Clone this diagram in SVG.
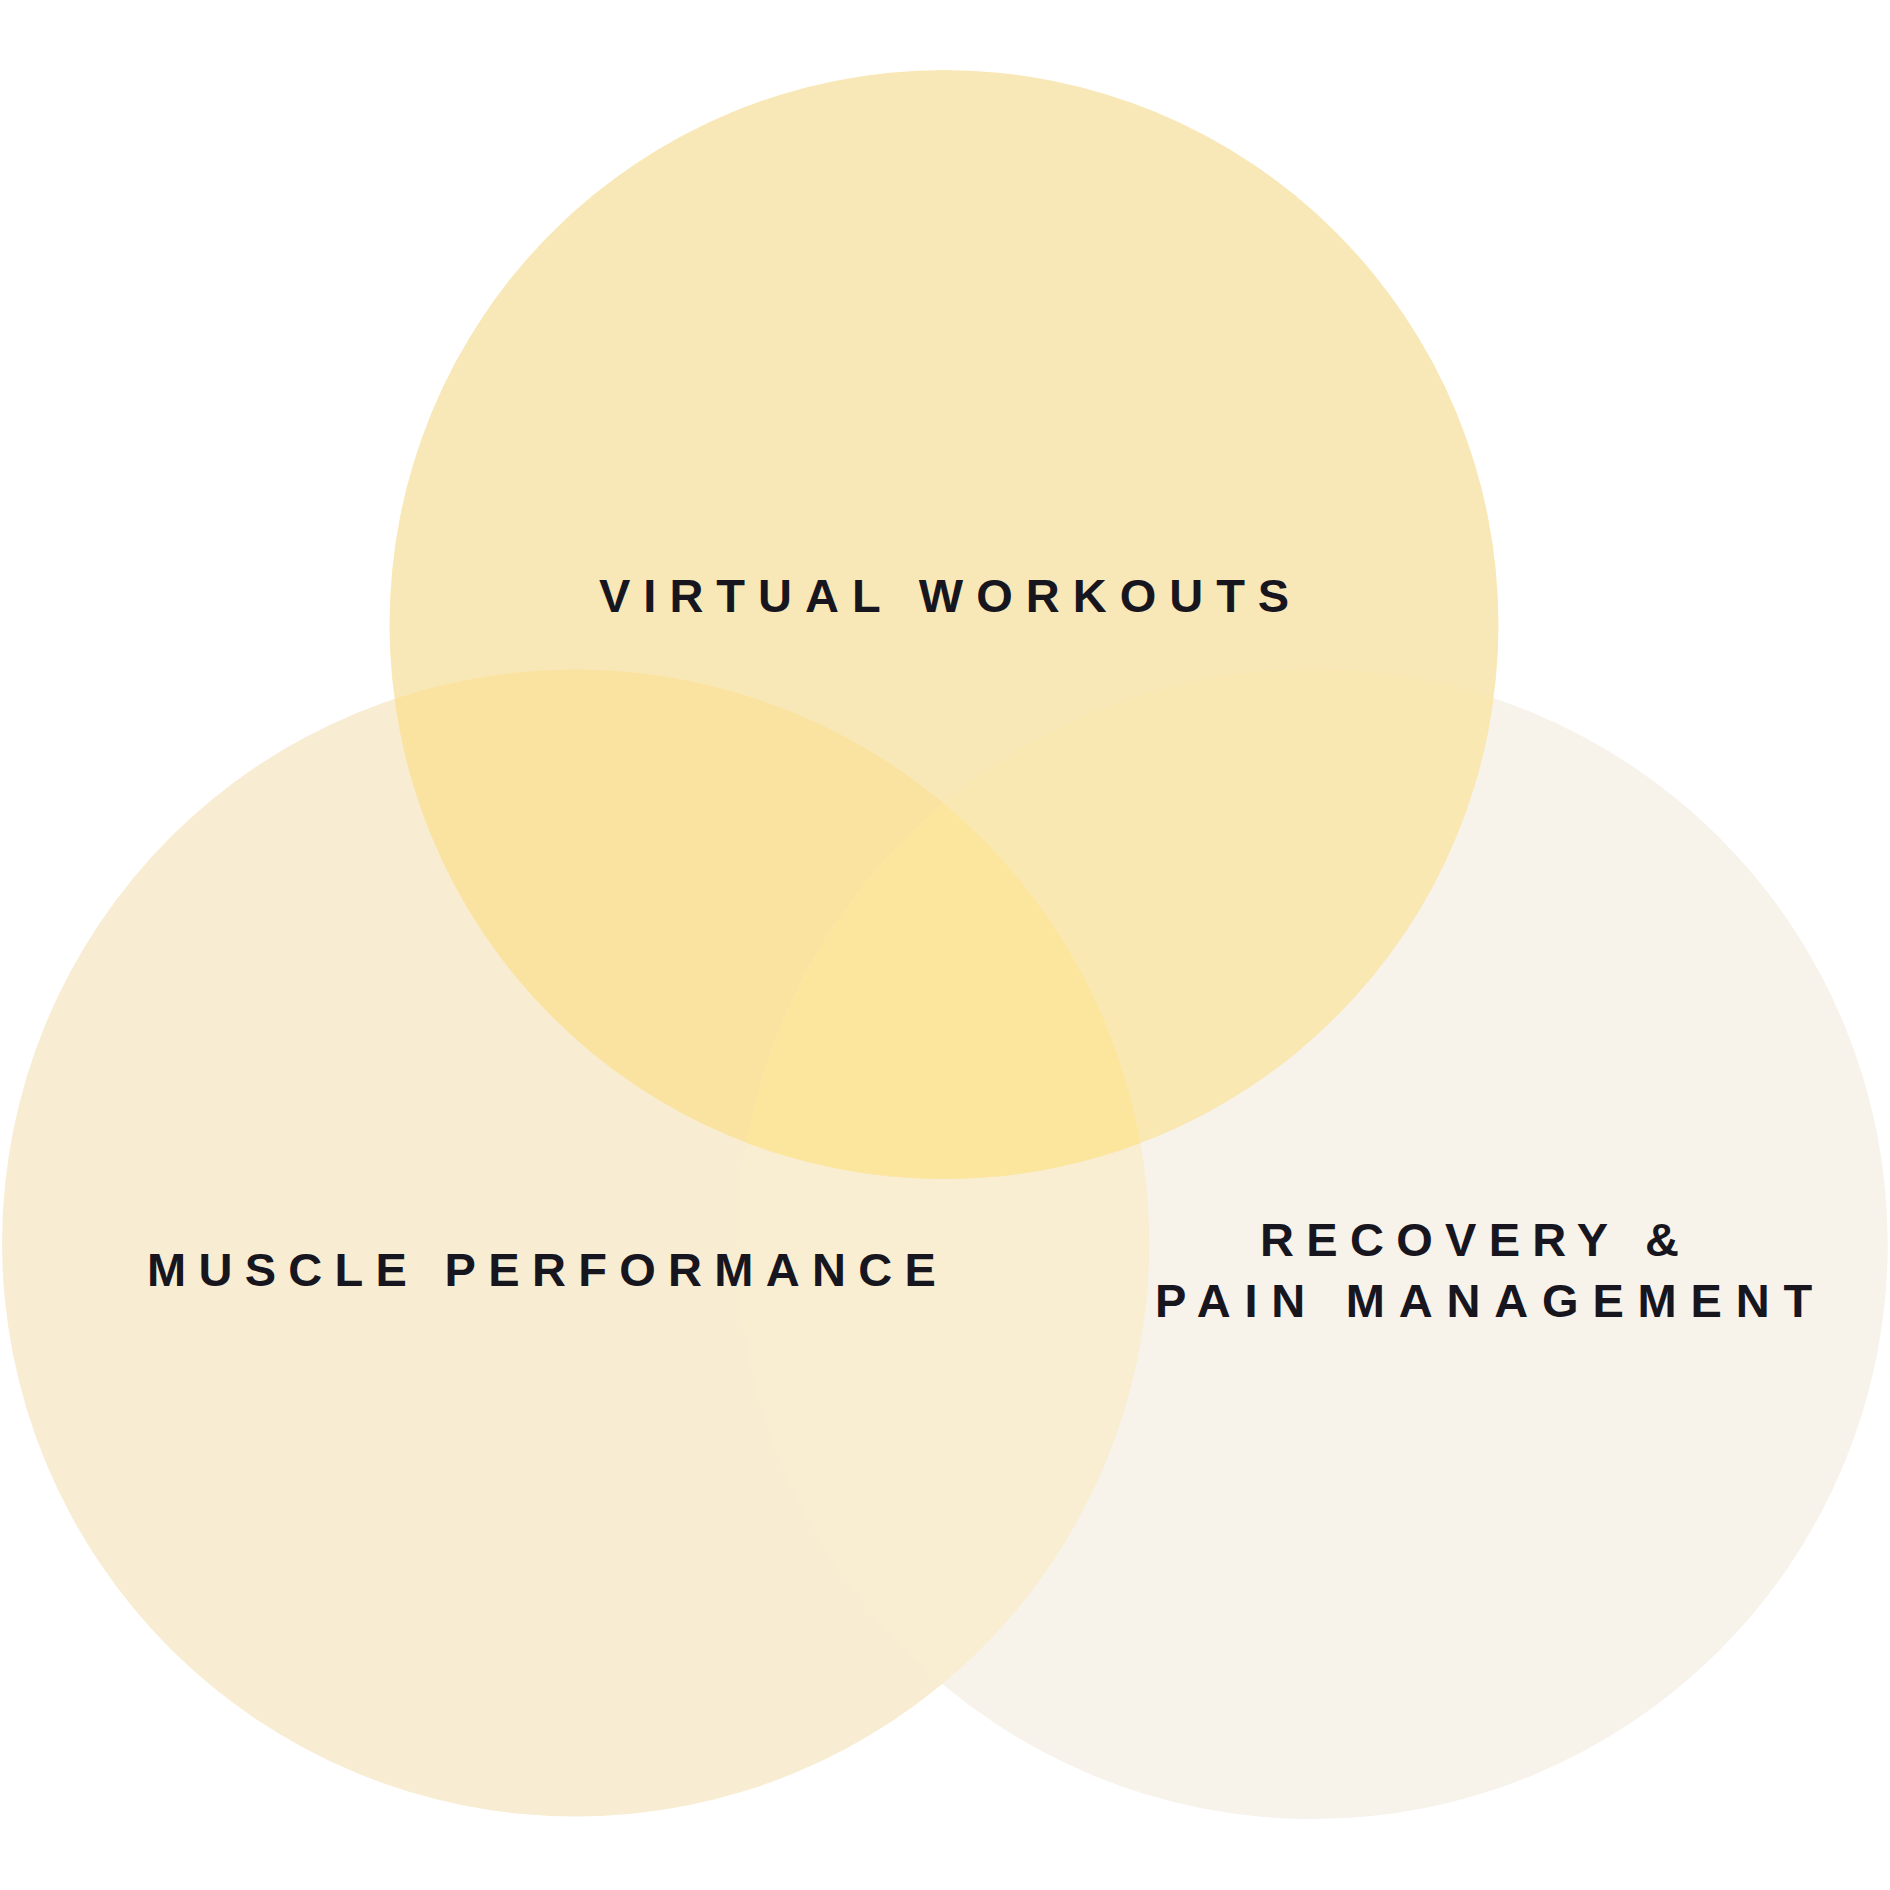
<svg xmlns="http://www.w3.org/2000/svg" width="1890" height="1890" viewBox="0 0 1890 1890">
  <style>
    .lbl { font-family: "Liberation Sans", Arial, sans-serif; font-weight: bold; font-size: 47px; fill: #17161F; letter-spacing: 13px; }
  </style>
  <defs>
    <clipPath id="clipTop"><circle cx="944" cy="624.5" r="554.5"/></clipPath>
    <clipPath id="clipLeft"><circle cx="575.6" cy="1243" r="573.5"/></clipPath>
    <clipPath id="clipRight"><circle cx="1312.7" cy="1244" r="575"/></clipPath>
  </defs>
  <rect width="1890" height="1890" fill="#FFFFFF"/>
  <g id="circle-recovery">
    <circle cx="1312.7" cy="1244" r="575" fill="#F7F2EA"/>
  </g>
  <g id="circle-muscle">
    <circle cx="575.6" cy="1243" r="573.5" fill="#F8EDD3"/>
  </g>
  <g id="circle-virtual">
    <circle cx="944" cy="624.5" r="554.5" fill="#F9E8B7"/>
  </g>
  <g id="overlaps">
    <g clip-path="url(#clipLeft)">
      <circle cx="1312.7" cy="1244" r="575" fill="#F9EED1"/>
      <circle cx="944" cy="624.5" r="554.5" fill="#FAE3A1"/>
    </g>
    <g clip-path="url(#clipRight)">
      <circle cx="944" cy="624.5" r="554.5" fill="#FAE8B3"/>
      <g clip-path="url(#clipLeft)">
        <circle cx="944" cy="624.5" r="554.5" fill="#FCE69E"/>
      </g>
    </g>
  </g>
  <g id="labels">
    <text class="lbl" x="599" y="612">VIRTUAL WORKOUTS</text>
    <text class="lbl" x="147" y="1286" style="letter-spacing:12.3px">MUSCLE PERFORMANCE</text>
    <text class="lbl" x="1260" y="1256" style="letter-spacing:12.3px">RECOVERY &amp;</text>
    <text class="lbl" x="1155" y="1317" style="letter-spacing:13.8px">PAIN MANAGEMENT</text>
  </g>
</svg>
